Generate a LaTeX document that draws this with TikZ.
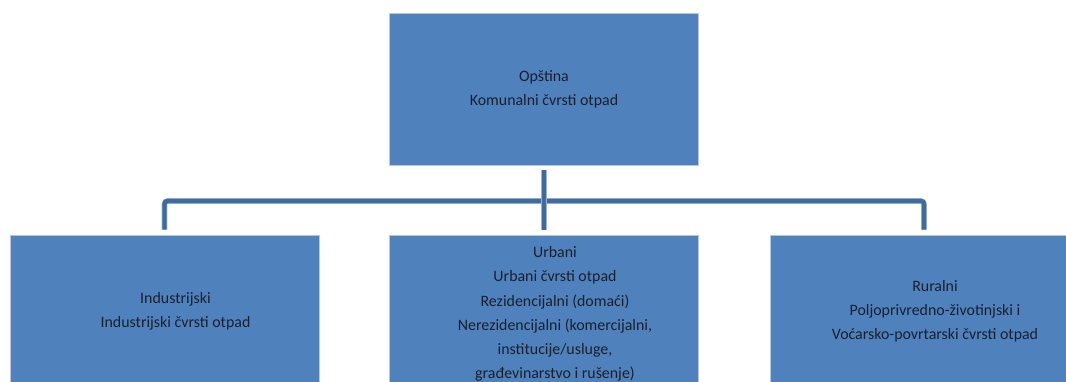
\documentclass[tikz,border=0pt]{standalone}
\usepackage{fontspec}
\setmainfont{Carlito}
\definecolor{boxblue}{HTML}{4F81BD}
\definecolor{boxedge}{HTML}{B4C8E2}
\definecolor{linkblue}{HTML}{3F6B9E}
\definecolor{linkedge}{HTML}{9DB5D6}
\definecolor{inktext}{HTML}{1A202B}

\def \boxwidth {309pt}
\def \boxheight {152pt}
\def \txtshift {11pt}

\tikzset{
  wastebox/.style={draw=boxedge, line width=0.8pt, fill=boxblue, rectangle,
    minimum width=\boxwidth, minimum height=\boxheight, inner sep=0pt},
  wastetext/.style={text=inktext, align=center, inner sep=0pt,
    font=\fontsize{15.9}{24.2}\selectfont},
  link/.style={linkblue, line width=4.4pt, rounded corners=3pt,
    shorten <=5pt, shorten >=5pt,
    preaction={draw=linkedge, line width=5.6pt}}
}

\begin{document}
\begin{tikzpicture}[x=1pt, y=-1pt]
\useasboundingbox (0,0) rectangle (1066,382);
\clip (0,0) rectangle (1066,382);

% top level
\node[wastebox] (top) at (544,89) {};
\node[wastetext] (toptxt) at (top.center) {Opština\\Komunalni čvrsti otpad};

% bottom level (cut by the page edge)
\node[wastebox] (ind) at (164.5,311) {};
\node[wastebox] (urb) at (544,311) {};
\node[wastebox, minimum width=308pt] (rur) at (924,311) {};
\node[wastetext] (indtxt) at ([xshift=\txtshift]ind.center) {Industrijski\\Industrijski čvrsti otpad};
\node[wastetext] (urbtxt) at ([xshift=\txtshift, yshift=-3pt]urb.center) {Urbani\\Urbani čvrsti otpad\\Rezidencijalni (domaći)\\Nerezidencijalni (komercijalni,\\institucije/usluge,\\građevinarstvo i rušenje)};
\node[wastetext] (rurtxt) at ([xshift=\txtshift]rur.center) {Ruralni\\Poljoprivredno-životinjski i\\Voćarsko-povrtarski čvrsti otpad};

% connectors
\coordinate (bus) at (544,201);
\draw[link] (ind.north) |- (bus) -| (rur.north);
\draw[link] (top.south) -- (urb.north);
\end{tikzpicture}
\end{document}
